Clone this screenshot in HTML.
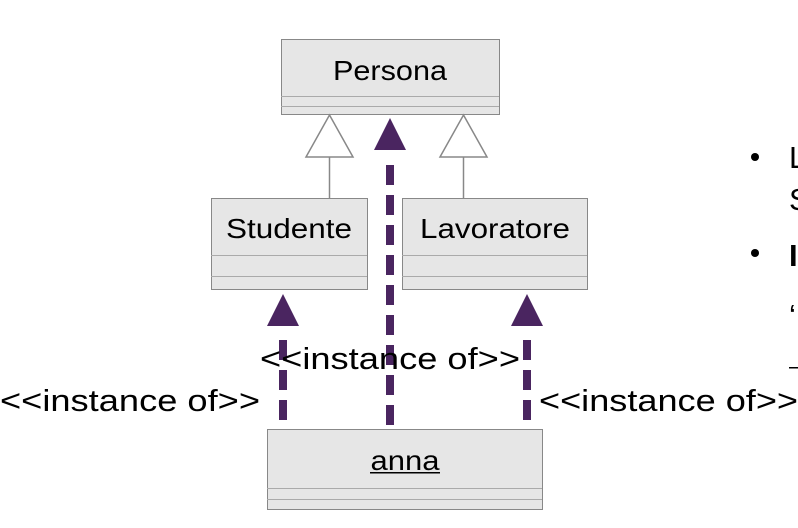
<!DOCTYPE html>
<html><head><meta charset="utf-8"><style>
html,body{margin:0;padding:0;background:#fff;width:798px;height:528px;overflow:hidden}
svg{display:block}
text{font-family:"Liberation Sans",sans-serif;fill:#000}
</style></head><body>
<svg width="798" height="528" viewBox="0 0 798 528" xmlns="http://www.w3.org/2000/svg">
<circle cx="755" cy="157" r="4" fill="#000"/>
<circle cx="755" cy="253" r="4" fill="#000"/>
<text x="789" y="168" font-size="31">L</text>
<text x="789" y="210" font-size="31">S</text>
<text x="789" y="266" font-size="31" font-weight="bold">I</text>
<text x="789" y="326" font-size="31">‘</text>
<rect x="789" y="367" width="9" height="1.5" fill="#000"/>

<rect x="281.5" y="39.5" width="218" height="75" fill="#e6e6e6" stroke="#888"/>
<line x1="281" y1="96.5" x2="499" y2="96.5" stroke="#aaa"/>
<line x1="281" y1="106.5" x2="499" y2="106.5" stroke="#aaa"/>
<text x="390" y="80" font-size="28" text-anchor="middle" textLength="114" lengthAdjust="spacingAndGlyphs">Persona</text>

<rect x="211.5" y="198.5" width="156" height="91" fill="#e6e6e6" stroke="#888"/>
<line x1="211" y1="255.5" x2="367" y2="255.5" stroke="#aaa"/>
<line x1="211" y1="276.5" x2="367" y2="276.5" stroke="#aaa"/>
<text x="289" y="238" font-size="28" text-anchor="middle" textLength="126" lengthAdjust="spacingAndGlyphs">Studente</text>

<rect x="402.5" y="198.5" width="185" height="91" fill="#e6e6e6" stroke="#888"/>
<line x1="402" y1="255.5" x2="587" y2="255.5" stroke="#aaa"/>
<line x1="402" y1="276.5" x2="587" y2="276.5" stroke="#aaa"/>
<text x="495" y="238" font-size="28" text-anchor="middle" textLength="150" lengthAdjust="spacingAndGlyphs">Lavoratore</text>

<rect x="267.5" y="429.5" width="275" height="80" fill="#e6e6e6" stroke="#888"/>
<line x1="267" y1="488.5" x2="542" y2="488.5" stroke="#aaa"/>
<line x1="267" y1="499.5" x2="542" y2="499.5" stroke="#aaa"/>
<text x="405" y="470" font-size="28" text-anchor="middle" textLength="69" lengthAdjust="spacingAndGlyphs">anna</text>
<rect x="370" y="472" width="70" height="1.5" fill="#000"/>

<line x1="329.5" y1="157" x2="329.5" y2="198" stroke="#888" stroke-width="1.5"/>
<polygon points="329.5,115 353,157 306,157" fill="#fff" stroke="#888" stroke-width="1.5"/>
<line x1="463.5" y1="157" x2="463.5" y2="198" stroke="#888" stroke-width="1.5"/>
<polygon points="463.5,115 487,157 440,157" fill="#fff" stroke="#888" stroke-width="1.5"/>

<g stroke="#4a2560" stroke-width="8" stroke-dasharray="20 10">
<line x1="390" y1="165" x2="390" y2="429"/>
<line x1="283" y1="340" x2="283" y2="429"/>
<line x1="527" y1="340" x2="527" y2="429"/>
</g>
<polygon points="390,118 406,150 374,150" fill="#4a2560"/>
<polygon points="283,294 299,326 267,326" fill="#4a2560"/>
<polygon points="527,294 543,326 511,326" fill="#4a2560"/>

<text x="390" y="369" font-size="31" text-anchor="middle" textLength="260" lengthAdjust="spacingAndGlyphs">&lt;&lt;instance of&gt;&gt;</text>
<text x="0" y="411" font-size="31" textLength="260" lengthAdjust="spacingAndGlyphs">&lt;&lt;instance of&gt;&gt;</text>
<text x="539" y="411" font-size="31" textLength="259" lengthAdjust="spacingAndGlyphs">&lt;&lt;instance of&gt;&gt;</text>
</svg>
</body></html>
